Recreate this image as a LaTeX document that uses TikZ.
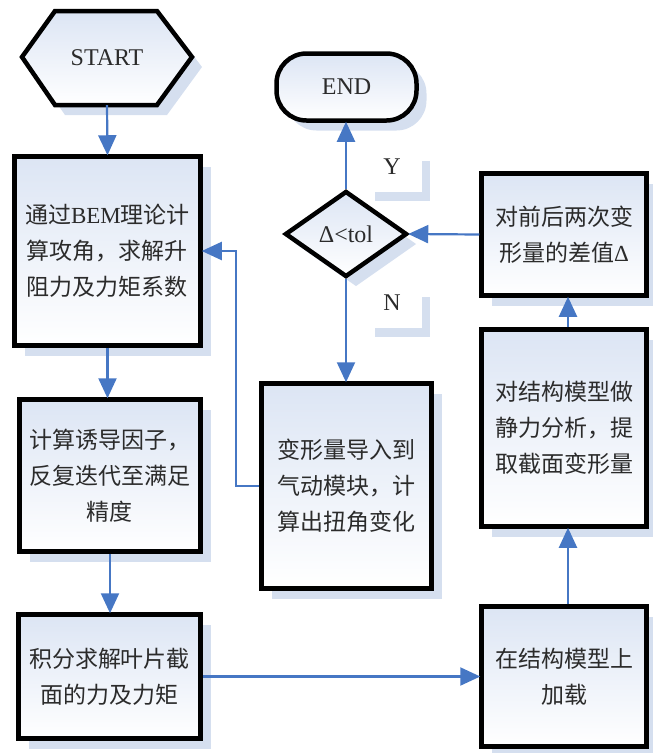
\documentclass[tikz,border=0pt]{standalone}
\usepackage{fontspec}
\setmainfont{Liberation Serif}
\newfontfamily\cjk{Noto Sans CJK SC}
\usetikzlibrary{shapes.geometric,shadows,arrows.meta}
\definecolor{shadowc}{HTML}{D5DFEF}
\definecolor{topc}{HTML}{DCE5F4}
\definecolor{arrowc}{HTML}{4677C4}
\definecolor{txtc}{HTML}{2B2B2B}
\newcommand\mycjkfont{\cjk\fontsize{23}{36}\selectfont}
\newcommand\mylatfont{\rmfamily\fontsize{24}{28}\selectfont}
\begin{document}
\begin{tikzpicture}[x=1pt,y=-1pt,
  shapebase/.style={draw=black, line width=4.5pt, top color=topc, bottom color=white,
    drop shadow={shadow xshift=10pt,shadow yshift=-10pt,fill=shadowc,opacity=1}},
  boxs/.style={shapebase, rectangle, text=txtc, align=center, font=\mycjkfont, inner sep=0pt},
  lat/.style={text=txtc, font=\mylatfont, inner sep=0pt},
  arr/.style={draw=arrowc, line width=2.2pt, -{Triangle[length=20pt,width=18pt]}, shorten >=-1pt},
  lshadow/.style={fill=shadowc}
]
\useasboundingbox (0,0) rectangle (653,753);

% START hexagon
\path[shapebase] (22,57) -- (55,11) -- (157,11) -- (192,57) -- (157,105) -- (55,105) -- cycle;
\node[lat, minimum width=170pt, minimum height=94pt] (start) at (107,58) {START};

% END
\node[shapebase, lat, rounded corners=30pt, minimum width=140pt, minimum height=67pt] (end) at (346.5,87) {END};

% decision
\node[shapebase, diamond, lat, minimum width=122pt, minimum height=86pt, inner sep=0pt] (dec) at (346,234) {Δ<tol};

% boxes
\node[boxs, minimum width=186pt, minimum height=189pt] (bem) at (107.5,251)
  {通过{\rmfamily BEM}理论计\\算攻角，求解升\\阻力及力矩系数};
\node[boxs, minimum width=181pt, minimum height=152pt] (ind) at (110,475.5)
  {计算诱导因子，\\反复迭代至满足\\精度};
\node[boxs, minimum width=182pt, minimum height=124pt] (integ) at (109.5,676.5)
  {积分求解叶片截\\面的力及力矩};
\node[boxs, minimum width=170pt, minimum height=205pt] (aero) at (346.5,486)
  {变形量导入到\\气动模块，计\\算出扭角变化};
\node[boxs, minimum width=165pt, minimum height=122pt] (diff) at (564,234.5)
  {对前后两次变\\形量的差值{\rmfamily Δ}};
\node[boxs, minimum width=165pt, minimum height=197pt] (stat) at (564,428)
  {对结构模型做\\静力分析，提\\取截面变形量};
\node[boxs, minimum width=165pt, minimum height=140pt] (load) at (564,676.5)
  {在结构模型上\\加载};

% Y / N labels with their shadows
\fill[lshadow] (422,161) rectangle (430,201);
\fill[lshadow] (375,192) rectangle (430,201);
\fill[lshadow] (422,297) rectangle (430,337);
\fill[lshadow] (375,328) rectangle (430,337);
\node[lat] (ylab) at (392,167) {Y};
\node[lat] (nlab) at (392,303) {N};

% connectors
\draw[arr] (start.south) -- (bem.north);
\draw[arr] (bem.south) -- (bem.south |- ind.north);
\draw[arr] (ind.south) -- (ind.south |- integ.north);
\draw[arr] (integ.east) -- (load.west);
\draw[arr] ([xshift=4pt]load.north) -- ([xshift=4pt]stat.south);
\draw[arr] ([xshift=4pt]stat.north) -- ([xshift=4pt]diff.south);
\draw[arr] (diff.west) -- (dec.east);
\draw[arr] (dec.north) -- (dec.north |- end.south);
\draw[arr] (dec.south) -- (dec.south |- aero.north);
\coordinate (fb) at (236,0);
\draw[arr] (aero.west) -- (aero.west -| fb) |- (bem.east);
\end{tikzpicture}
\end{document}
